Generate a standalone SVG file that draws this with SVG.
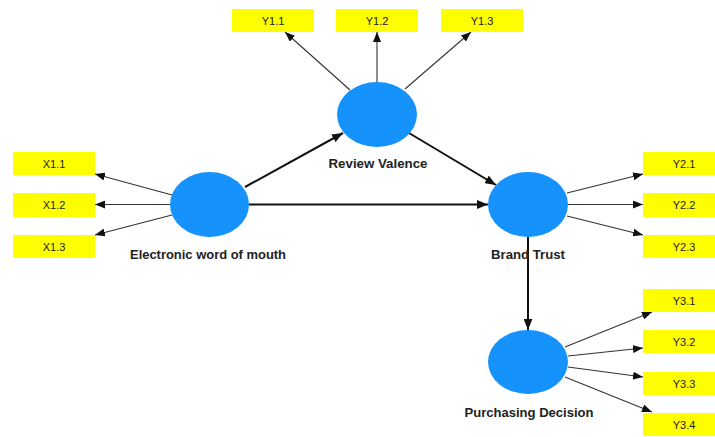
<svg xmlns="http://www.w3.org/2000/svg" width="715" height="437" viewBox="0 0 715 437">
<defs>
<style>
.box{fill:#ffff00}
.bt{font-family:"Liberation Sans",Arial,sans-serif;font-size:11px;fill:#222;text-anchor:middle}
.lv{fill:#1592fc}
.lt{font-family:"Liberation Sans",Arial,sans-serif;font-size:12px;font-weight:bold;fill:#222;text-anchor:middle}
.ind{stroke:#333;stroke-width:1.1;fill:none;marker-end:url(#ah)}
.str{stroke:#111;stroke-width:2;fill:none;marker-end:url(#ah2)}
</style>
<marker id="ah" viewBox="0 0 10 8" refX="10" refY="4" markerWidth="10" markerHeight="8" markerUnits="userSpaceOnUse" orient="auto">
<path d="M0,0 L10,4 L0,8 z" fill="#111"/>
</marker>
<marker id="ah2" viewBox="0 0 10 8" refX="10" refY="4" markerWidth="11" markerHeight="9" markerUnits="userSpaceOnUse" orient="auto">
<path d="M0,0 L10,4 L0,8 z" fill="#111"/>
</marker>
</defs>
<rect width="715" height="437" fill="#fff"/>
<g id="connectors">
<line class="ind" x1="172" y1="195" x2="95" y2="174"/>
<line class="ind" x1="170" y1="204.5" x2="95" y2="204.5"/>
<line class="ind" x1="172" y1="215" x2="95" y2="235"/>
<line class="ind" x1="350" y1="90" x2="285" y2="32"/>
<line class="ind" x1="377" y1="82" x2="377" y2="32"/>
<line class="ind" x1="405" y1="89" x2="471" y2="32"/>
<line class="ind" x1="567" y1="193" x2="643" y2="174"/>
<line class="ind" x1="568" y1="204.5" x2="643" y2="204.5"/>
<line class="ind" x1="567" y1="216" x2="643" y2="235"/>
<line class="ind" x1="565" y1="347" x2="652" y2="312"/>
<line class="ind" x1="568" y1="356" x2="643" y2="348"/>
<line class="ind" x1="568" y1="367" x2="643" y2="377"/>
<line class="ind" x1="565" y1="377" x2="652" y2="412"/>
<line class="str" x1="245" y1="187" x2="343" y2="133"/>
<line class="str" x1="249" y1="204.5" x2="488" y2="204.5"/>
<line class="str" x1="409" y1="133" x2="496" y2="185"/>
<line class="str" x1="528" y1="237" x2="528" y2="330"/>
</g>
<g id="x1_1"><rect class="box" x="13" y="152" width="82" height="23"/><text class="bt" x="54" y="167.5">X1.1</text></g>
<g id="x1_2"><rect class="box" x="13" y="193" width="82" height="24"/><text class="bt" x="54" y="209">X1.2</text></g>
<g id="x1_3"><rect class="box" x="13" y="235" width="82" height="23"/><text class="bt" x="54" y="250.5">X1.3</text></g>
<g id="y1_1"><rect class="box" x="232" y="9" width="82" height="23"/><text class="bt" x="273" y="24.5">Y1.1</text></g>
<g id="y1_2"><rect class="box" x="336" y="9" width="82" height="23"/><text class="bt" x="377" y="24.5">Y1.2</text></g>
<g id="y1_3"><rect class="box" x="441" y="9" width="82" height="23"/><text class="bt" x="482" y="24.5">Y1.3</text></g>
<g id="y2_1"><rect class="box" x="643" y="152" width="82" height="23"/><text class="bt" x="684" y="167.5">Y2.1</text></g>
<g id="y2_2"><rect class="box" x="643" y="193" width="82" height="24"/><text class="bt" x="684" y="209">Y2.2</text></g>
<g id="y2_3"><rect class="box" x="643" y="235" width="82" height="23"/><text class="bt" x="684" y="250.5">Y2.3</text></g>
<g id="y3_1"><rect class="box" x="643" y="289" width="82" height="23"/><text class="bt" x="684" y="304.5">Y3.1</text></g>
<g id="y3_2"><rect class="box" x="643" y="330" width="82" height="23"/><text class="bt" x="684" y="345.5">Y3.2</text></g>
<g id="y3_3"><rect class="box" x="643" y="372" width="82" height="23"/><text class="bt" x="684" y="387.5">Y3.3</text></g>
<g id="y3_4"><rect class="box" x="643" y="413" width="82" height="23"/><text class="bt" x="684" y="428.5">Y3.4</text></g>
<g id="ewom"><ellipse class="lv" cx="209.5" cy="204.5" rx="39.5" ry="32.5"/><text class="lt" x="208" y="259" textLength="156" lengthAdjust="spacingAndGlyphs">Electronic word of mouth</text></g>
<g id="rv"><ellipse class="lv" cx="377" cy="114.5" rx="40" ry="32.5"/><text class="lt" x="378" y="168" textLength="99" lengthAdjust="spacingAndGlyphs">Review Valence</text></g>
<g id="bt"><ellipse class="lv" cx="528" cy="204.5" rx="40" ry="32.5"/><text class="lt" x="528" y="259" textLength="74" lengthAdjust="spacingAndGlyphs">Brand Trust</text></g>
<g id="pd"><ellipse class="lv" cx="528" cy="362" rx="40" ry="32"/><text class="lt" x="529" y="417" textLength="129" lengthAdjust="spacingAndGlyphs">Purchasing Decision</text></g>
</svg>
